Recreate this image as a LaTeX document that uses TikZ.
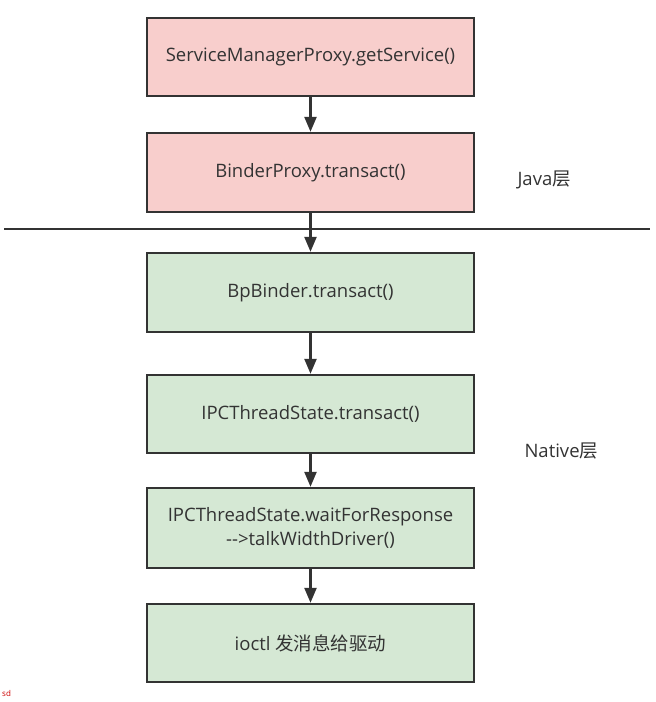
\documentclass[tikz,border=0pt]{standalone}
\usepackage{fontspec}
\setmainfont{Open Sans}
\newfontfamily\cjk{Noto Sans CJK SC}
\usetikzlibrary{arrows.meta}
\definecolor{pinkfill}{HTML}{F8CECC}
\definecolor{greenfill}{HTML}{D5E8D4}
\definecolor{edge}{HTML}{333333}
\definecolor{txt}{HTML}{333333}
\tikzset{
  box/.style={draw=edge, line width=2.4pt, minimum width=327pt, inner sep=0pt, align=center, font=\fontsize{18.5}{24}\selectfont, text=txt},
  pinkbox/.style={box, fill=pinkfill},
  greenbox/.style={box, fill=greenfill},
  flow/.style={draw=edge, line width=2.4pt, -{Triangle[length=15pt,width=12pt]}},
  layer/.style={font=\fontsize{18.5}{22}\selectfont, text=txt, anchor=west}
}
\begin{document}
\begin{tikzpicture}[x=1pt,y=-1pt]
\useasboundingbox (0,0) rectangle (656,702);
\node[pinkbox, minimum height=78pt] (b1) at (310.5,57) {ServiceManagerProxy.getService()};
\node[pinkbox, minimum height=79pt] (b2) at (310.5,172.5) {BinderProxy.transact()};
\node[greenbox, minimum height=79pt] (b3) at (310.5,292.5) {BpBinder.transact()};
\node[greenbox, minimum height=78pt] (b4) at (310.5,414) {IPCThreadState.transact()};
\node[greenbox, minimum height=80pt] (b5) at (310.5,528) {IPCThreadState.waitForResponse\\-{}->talkWidthDriver()};
\node[greenbox, minimum height=78pt] (b6) at (310.5,643) {ioctl {\cjk 发消息给驱动}};
\coordinate (l1) at (4,229);
\coordinate (l2) at (650,229);
\draw[draw=edge, line width=2.4pt] (l1) -- (l2);
\node[layer] (java) at (514,180) {Java{\cjk 层}};
\node[layer] (native) at (521,451) {Native{\cjk 层}};
\node[font=\fontsize{8}{9}\selectfont\rmfamily, text=red!80!black, anchor=west, inner sep=0pt] (sd) at (2,693) {sd};
\draw[flow] (b1) -- (b2);
\draw[flow] (b2) -- (b3);
\draw[flow] (b3) -- (b4);
\draw[flow] (b4) -- (b5);
\draw[flow] (b5) -- (b6);
\end{tikzpicture}
\end{document}
